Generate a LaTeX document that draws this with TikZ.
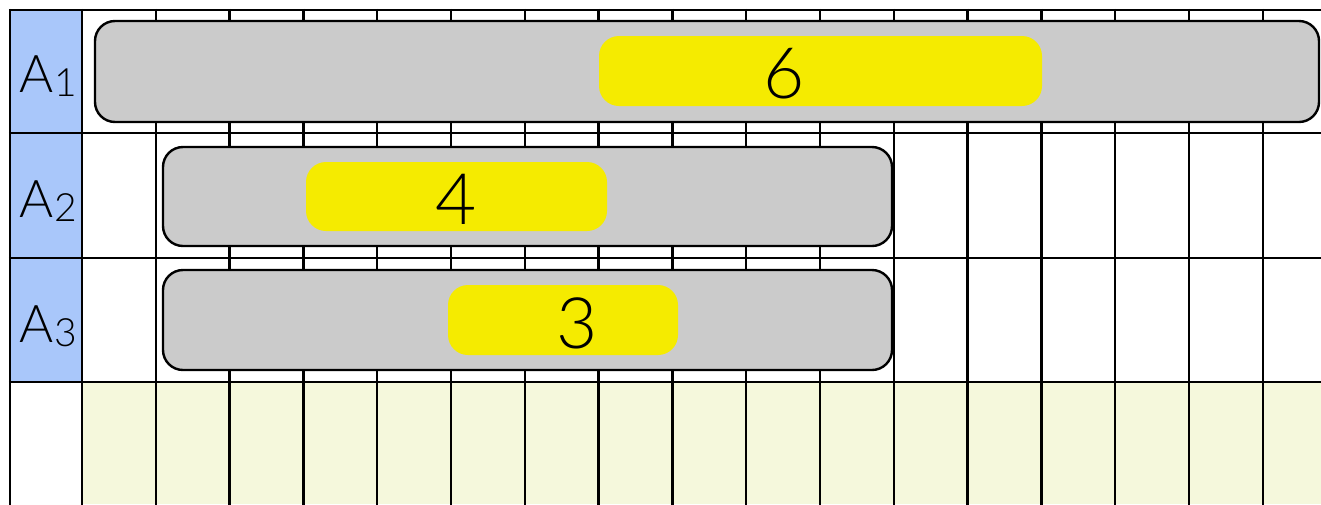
\documentclass[tikz,border=0pt]{standalone}
\usepackage{fontspec}
\IfFontExistsTF{Lato Light}{\newfontfamily\lf{Lato Light}}{\newfontfamily\lf{TeX Gyre Heros}}
\definecolor{lblue}{HTML}{A9C7FA}
\definecolor{barg}{HTML}{CBCBCB}
\definecolor{pilly}{HTML}{F5EB00}
\definecolor{lyel}{HTML}{F5F8DC}
\tikzset{
  gridline/.style={line width=2.5pt, black},
  bar/.style={draw=black, line width=2.4pt, fill=barg, rounded corners=20pt, inner sep=0pt},
  pill/.style={fill=pilly, rounded corners=20pt, inner sep=0pt},
  num/.style={inner sep=0pt, font=\lf\fontsize{71}{71}\selectfont},
  rowlab/.style={inner sep=0pt, anchor=base west, font=\lf\fontsize{52}{52}\selectfont},
}
\newcommand{\sublab}[1]{A\hspace{1pt}\raisebox{-4pt}{\fontsize{39}{39}\selectfont #1}}
\begin{document}
\begin{tikzpicture}[x=1pt,y=-1pt]
\useasboundingbox (0,0) rectangle (1321,504);
% fills
\fill[lblue] (10,10) rectangle (82,382);
\fill[lyel] (82,382) rectangle (1321,504);
% grid
\foreach \yy in {10,133,258,382} \draw[gridline] (8.75,\yy) -- (1322,\yy);
\draw[gridline] (10,8.75) -- (10,505);
\draw[gridline] (82,8.75) -- (82,505);
\foreach \k in {1,...,16} \draw[gridline] ({82+73.8*\k},8.75) -- ({82+73.8*\k},505);
% bars
\node[bar, minimum width=1224pt, minimum height=101pt] (b1) at (707,71.5) {};
\node[bar, minimum width=729pt, minimum height=99pt] (b2) at (527.5,196.5) {};
\node[bar, minimum width=729pt, minimum height=100pt] (b3) at (527.5,320) {};
% pills
\node[pill, minimum width=443pt, minimum height=70pt] (p1) at (820.5,71) {};
\node[pill, minimum width=301pt, minimum height=69pt] (p2) at (456.5,196.5) {};
\node[pill, minimum width=230pt, minimum height=70pt] (p3) at (563,320) {};
% numbers
\node[num] (n1) at (784,74) {6};
\node[num] (n2) at (456,199) {4};
\node[num] (n3) at (577,323) {3};
% row labels
\node[rowlab] (a1) at (19,92.5) {\sublab{1}};
\node[rowlab] (a2) at (19,217) {\sublab{2}};
\node[rowlab] (a3) at (19,342) {\sublab{3}};
\end{tikzpicture}
\end{document}
